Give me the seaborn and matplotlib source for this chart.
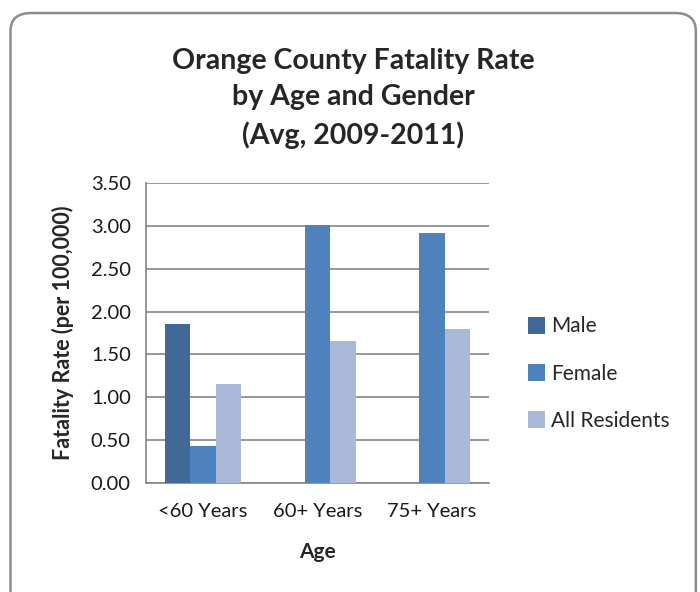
import numpy as np
import pandas as pd
import seaborn as sns
import matplotlib.pyplot as plt
from matplotlib.patches import FancyBboxPatch

# Data
ages = ["<60 Years", "60+ Years", "75+ Years"]
male = [1.85, 0.0, 0.0]
female = [0.43, 3.01, 2.92]
all_residents = [1.15, 1.66, 1.80]
groups = ["Male", "Female", "All Residents"]
colors = ["#416998", "#4f81bd", "#aab9d7"]
y_ticks = [0.0, 0.5, 1.0, 1.5, 2.0, 2.5, 3.0, 3.5]

df = pd.DataFrame({
    "Age": ages * 3,
    "Group": ["Male"] * 3 + ["Female"] * 3 + ["All Residents"] * 3,
    "Rate": male + female + all_residents,
})

sns.set_style("white")
plt.rcParams["font.family"] = ["Lato", "DejaVu Sans"]

fig = plt.figure(figsize=(7, 5.92), dpi=100)
ax = fig.add_axes([0.2086, 0.1840, 0.49, 0.5069])

# rounded chart border (runs off the bottom edge like the reference)
border = FancyBboxPatch((0.015, -0.05), 0.979, 1.028,
                        boxstyle="round,pad=0,rounding_size=0.03",
                        transform=fig.transFigure, facecolor="white",
                        edgecolor="#8c8c8c", linewidth=1.8, zorder=-10)
fig.patches.append(border)

sns.barplot(data=df, x="Age", y="Rate", hue="Group", hue_order=groups,
            order=ages, palette=colors, width=0.667, saturation=1,
            linewidth=0, ax=ax, legend=True, zorder=3)

ax.set_ylim(0, 3.5)
ax.set_yticks(y_ticks)
ax.set_yticklabels([f"{v:.2f}" for v in y_ticks])
ax.set_xlim(-0.5, 2.5)
ax.yaxis.grid(True, color="#868686", linewidth=1.2)
ax.set_axisbelow(True)
for s in ["top", "right"]:
    ax.spines[s].set_visible(False)
ax.spines["left"].set_color("#868686")
ax.spines["bottom"].set_color("#868686")
ax.spines["left"].set_linewidth(1.2)
ax.spines["bottom"].set_linewidth(1.2)
ax.tick_params(axis="y", length=5, color="#868686", width=1.2,
               labelsize=14.5, labelcolor="#1a1a1a", pad=6)
ax.tick_params(axis="x", length=0, labelsize=14.5, labelcolor="#1a1a1a", pad=14)

ax.set_xlabel("Age", fontsize=15, fontweight="bold", labelpad=16)
ax.set_ylabel("Fatality Rate (per 100,000)", fontsize=15.5, fontweight="bold",
              labelpad=12)

fig.text(0.505, 0.834, "Orange County Fatality Rate\nby Age and Gender\n(Avg, 2009-2011)",
         ha="center", va="center", fontsize=20.5, fontweight="bold",
         linespacing=1.5)

leg = ax.legend(loc="center left", bbox_to_anchor=(1.06, 0.365), frameon=False,
                fontsize=15, handlelength=0.8, handleheight=0.9,
                handletextpad=0.3, labelspacing=1.3, title=None)

fig.savefig("out.png", dpi=100)
